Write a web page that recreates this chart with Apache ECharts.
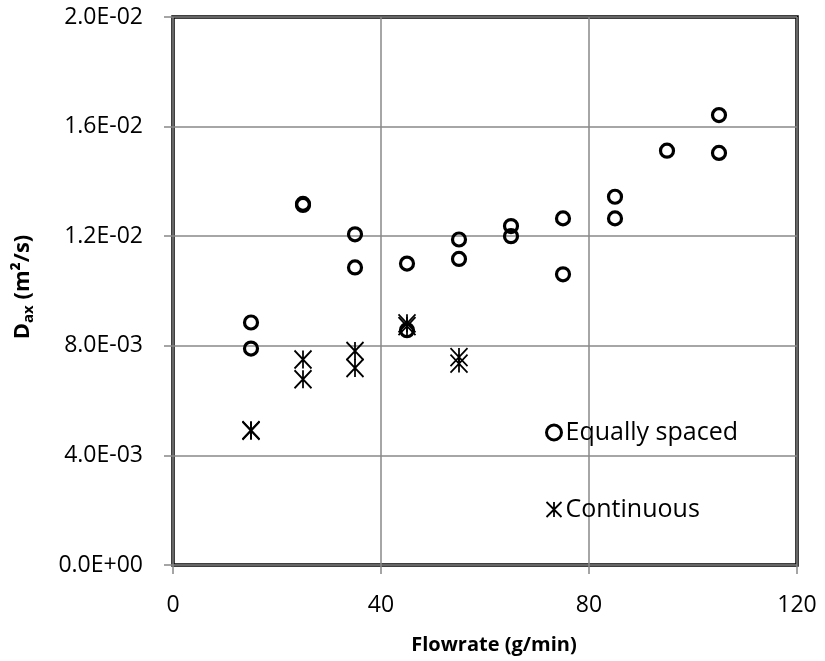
<!DOCTYPE html>
<html>
<head>
<meta charset="utf-8">
<script src="https://cdn.jsdelivr.net/npm/echarts@6/dist/echarts.min.js"></script>
<style>
  html, body { margin: 0; padding: 0; background: #fff; }
  #chart { width: 825px; height: 661px; }
</style>
</head>
<body>
<div id="chart"></div>
<script>
// Axial dispersion coefficient vs. flowrate, two feeding modes
const equalFlow = [15, 15, 25, 25, 35, 35, 45, 45, 55, 55, 65, 65, 75, 75, 85, 85, 95, 105, 105];
const equalDax  = [0.00885, 0.0079, 0.01318, 0.01314, 0.01207, 0.01086, 0.0110, 0.00857,
                   0.01188, 0.01117, 0.01237, 0.0120, 0.01265, 0.01061, 0.01344, 0.01265,
                   0.01512, 0.01642, 0.01504];

const contFlow = [15, 15, 25, 25, 35, 35, 45, 45, 55, 55];
const contDax  = [0.00492, 0.00490, 0.0075, 0.00678, 0.00781, 0.00719, 0.00882, 0.00872, 0.00759, 0.00735];

const xTicks = [0, 40, 80, 120];
const yTickLabels = ['0.0E+00', '4.0E-03', '8.0E-03', '1.2E-02', '1.6E-02', '2.0E-02'];
const yStep = 0.004;

const seriesNames = ['Equally spaced', 'Continuous'];

const FONT = 'Open Sans';
const asterisk = 'path://M0,0L20,20M20,0L0,20M10,0L10,20';

const chart = echarts.init(document.getElementById('chart'));
chart.setOption({
  animation: false,
  backgroundColor: '#fff',
  grid: {
    left: 173, right: 28, top: 17, bottom: 96,
    show: true, borderColor: '#000', borderWidth: 3.5, backgroundColor: 'transparent'
  },
  xAxis: {
    type: 'value',
    min: xTicks[0], max: xTicks[xTicks.length - 1], interval: 40,
    axisLine: { show: false },
    axisTick: { show: true, length: 9, lineStyle: { color: '#888', width: 1.5 } },
    splitLine: { show: true, lineStyle: { color: '#888', width: 1.5 } },
    axisLabel: { color: '#000', fontFamily: FONT, fontSize: 23, margin: 29 },
    name: 'Flowrate (g/min)',
    nameLocation: 'middle', nameGap: 70,
    nameTextStyle: { color: '#000', fontFamily: FONT, fontSize: 20, fontWeight: 'bold', padding: [0, 0, 0, 18] }
  },
  yAxis: {
    type: 'value',
    min: 0, max: 0.02, interval: yStep,
    axisLine: { show: false },
    axisTick: { show: true, length: 9, lineStyle: { color: '#888', width: 1.5 } },
    splitLine: { show: true, lineStyle: { color: '#888', width: 1.5 } },
    axisLabel: {
      color: '#000', fontFamily: FONT, fontSize: 23, margin: 30,
      formatter: v => yTickLabels[Math.round(v / yStep)]
    },
    name: '{b|D}{s|ax}{b| (m²/s)}',
    nameLocation: 'middle', nameGap: 137, nameRotate: 90,
    nameTextStyle: {
      color: '#000',
      padding: [0, 0, 0, 8],
      rich: {
        b: { fontFamily: FONT, fontSize: 22, fontWeight: 'bold', color: '#000' },
        s: { fontFamily: FONT, fontSize: 15, fontWeight: 'bold', color: '#000', padding: [12, 0, 0, 0] }
      }
    }
  },
  legend: {
    orient: 'vertical',
    left: 540, top: 415,
    itemGap: 52,
    itemWidth: 15, itemHeight: 15,
    textStyle: { color: '#000', fontFamily: FONT, fontSize: 25, padding: [0, 0, 0, -1] },
    data: [
      { name: seriesNames[0], icon: 'circle', itemStyle: { color: 'transparent', borderColor: '#000', borderWidth: 3 } },
      { name: seriesNames[1], icon: asterisk, itemStyle: { color: 'transparent', borderColor: '#000', borderWidth: 1.8 } }
    ]
  },
  series: [
    {
      name: seriesNames[0],
      type: 'scatter',
      symbol: 'circle',
      symbolSize: 13,
      itemStyle: { color: 'transparent', borderColor: '#000', borderWidth: 3.2, opacity: 1 },
      data: equalFlow.map((x, i) => [x, equalDax[i]])
    },
    {
      name: seriesNames[1],
      type: 'scatter',
      symbol: asterisk,
      symbolSize: [17, 18],
      itemStyle: { color: 'transparent', borderColor: '#000', borderWidth: 1.8, opacity: 1 },
      data: contFlow.map((x, i) => [x, contDax[i]])
    }
  ]
});
</script>
</body>
</html>
